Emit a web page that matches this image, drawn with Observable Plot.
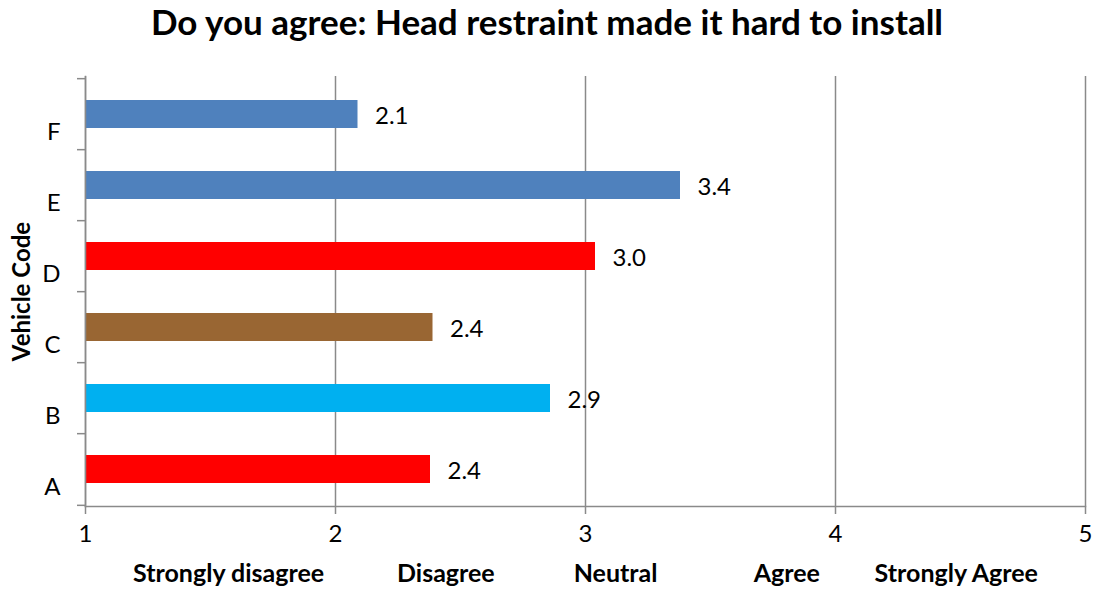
<!DOCTYPE html>
<html>
<head>
<meta charset="utf-8">
<script src="https://cdn.jsdelivr.net/npm/d3@7"></script>
<script src="https://cdn.jsdelivr.net/npm/@observablehq/plot@0.6"></script>
<style>
  html, body { margin: 0; padding: 0; background: #fff; }
  #title { height: 46px; line-height: 39px; text-align: center; font: bold 35px Lato, sans-serif; color: #000; width: 1094px; overflow: hidden; white-space: nowrap; }
  #chart svg { display: block; }
</style>
</head>
<body>
<div id="title">Do you agree: Head restraint made it hard to install</div>
<div id="chart"></div>
<script>
const categories = ["A", "B", "C", "D", "E", "F"];
const values = [2.38, 2.86, 2.39, 3.04, 3.38, 2.09];
const barColors = ["#FF0000", "#00B0F0", "#996633", "#FF0000", "#4F81BD", "#4F81BD"];
const xTicks = [1, 2, 3, 4, 5];
const yTitle = "Vehicle Code";
const xTitle = "Strongly disagree            Disagree             Neutral                Agree         Strongly Agree";

const data = categories.map((c, i) => ({cat: c, value: values[i], color: barColors[i]}));
const yDomain = categories.slice().reverse();

const W = 1094, H = 543, mt = 30, mb = 83, ml = 85, mr = 9;
const step = (H - mt - mb) / categories.length;
const gray = "#8a8a8a";
const fs = 24;

const plot = Plot.plot({
  width: W, height: H,
  marginTop: mt, marginBottom: mb, marginLeft: ml, marginRight: mr,
  style: {fontFamily: "Lato, sans-serif", fontSize: fs + "px", color: "#000", background: "#fff"},
  x: {domain: [1, 5], ticks: xTicks, label: null},
  y: {domain: yDomain, paddingInner: 0.61, paddingOuter: 0.305, label: null},
  color: {type: "identity"},
  marks: [
    Plot.gridX({ticks: xTicks, stroke: gray, strokeOpacity: 1, strokeWidth: 1.5}),
    Plot.barX(data, {x1: 1, x2: "value", y: "cat", fill: "color"}),
    Plot.frame({anchor: "bottom", stroke: gray, strokeWidth: 1.5}),
    Plot.frame({anchor: "left", stroke: gray, strokeWidth: 1.5}),
    // boundary ticks on the category axis
    Plot.axisY({ticks: yDomain, tickSize: 8, tickFormat: null, dy: -step / 2, stroke: gray, strokeWidth: 1.5}),
    Plot.axisY({ticks: [categories[0]], tickSize: 8, tickFormat: null, dy: step / 2, stroke: gray, strokeWidth: 1.5}),
    // category labels
    Plot.axisY({ticks: yDomain, tickSize: 0, tickPadding: 25, dy: 18, fill: "#000", fontSize: fs}),
    Plot.axisX({ticks: xTicks, tickSize: 8, tickPadding: 10, stroke: gray, strokeWidth: 1.5, fill: "#000", fontSize: fs, tickFormat: d => String(d)}),
    Plot.text(data, {x: "value", y: "cat", text: d => d.value.toFixed(1), dx: 17, dy: 2, textAnchor: "start", fill: "#000", fontSize: fs}),
    Plot.text([xTitle.replace(/ /g, "\u00a0")], {frameAnchor: "bottom", dy: 67, textAnchor: "middle", lineAnchor: "middle", fontWeight: "bold", fontSize: 25, fill: "#000"}),
    Plot.text([yTitle], {frameAnchor: "left", dx: -63, rotate: -90, textAnchor: "middle", lineAnchor: "middle", fontWeight: "bold", fontSize: fs, fill: "#000"})
  ]
});
document.getElementById("chart").appendChild(plot);
</script>
</body>
</html>
